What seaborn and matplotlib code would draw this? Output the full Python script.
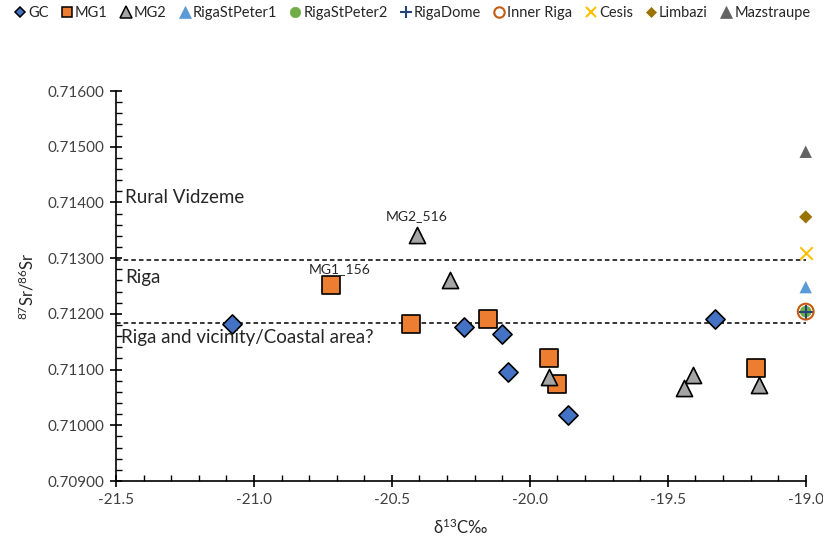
import numpy as np
import pandas as pd
import matplotlib
matplotlib.use('Agg')
import matplotlib.pyplot as plt
import seaborn as sns
from matplotlib.lines import Line2D
from matplotlib.ticker import MultipleLocator, FormatStrFormatter

# study samples (d13C, 87Sr/86Sr)
gc_d13c = [-21.08, -20.24, -20.10, -20.08, -19.86, -19.33]
gc_sr = [0.71181, 0.71176, 0.71163, 0.71095, 0.71019, 0.71191]
mg1_d13c = [-20.72, -20.43, -20.15, -19.93, -19.90, -19.18]
mg1_sr = [0.71252, 0.71181, 0.71190, 0.71120, 0.71075, 0.71102]
mg2_d13c = [-20.41, -20.29, -19.93, -19.41, -19.44, -19.17]
mg2_sr = [0.71342, 0.71261, 0.71087, 0.71090, 0.71067, 0.71072]

# reference baselines, all plotted at the right edge
ref_sites = ['RigaStPeter1', 'RigaStPeter2', 'RigaDome', 'Inner Riga', 'Cesis', 'Limbazi', 'Mazstraupe']
ref_sr = [0.71248, 0.71204, 0.71204, 0.71204, 0.71310, 0.71374, 0.71491]
ref_d13c = -19.0

riga_upper = 0.71296
riga_lower = 0.71184
zones = ['Rural Vidzeme', 'Riga', 'Riga and vicinity/Coastal area?']
zone_y = [0.71408, 0.71266, 0.71157]

labelled = {'MG1_156': (-20.69, 0.71280), 'MG2_516': (-20.41, 0.71376)}

sns.set_style('white')
plt.rcParams['font.family'] = ['Lato', 'DejaVu Sans']
plt.rcParams['axes.unicode_minus'] = False
plt.rcParams['mathtext.default'] = 'regular'

fig = plt.figure(figsize=(8.23, 5.36), dpi=100)
ax = fig.add_axes([0.141, 0.1026, 0.838, 0.7276])

study = pd.concat([
    pd.DataFrame({'d13c': gc_d13c, 'sr': gc_sr, 'group': 'GC'}),
    pd.DataFrame({'d13c': mg1_d13c, 'sr': mg1_sr, 'group': 'MG1'}),
    pd.DataFrame({'d13c': mg2_d13c, 'sr': mg2_sr, 'group': 'MG2'}),
])
styles = {
    'GC': dict(marker='D', color='#4472C4', s=95),
    'MG1': dict(marker='s', color='#ED7D31', s=165),
    'MG2': dict(marker='^', color='#A5A5A5', s=135),
}
for g, st in styles.items():
    sub = study[study.group == g]
    sns.scatterplot(data=sub, x='d13c', y='sr', marker=st['marker'], color=st['color'],
                    s=st['s'], edgecolor='black', linewidth=1.2, ax=ax, zorder=3)

ref = pd.DataFrame({'site': ref_sites, 'sr': ref_sr})
ref['d13c'] = ref_d13c
ref_styles = {
    'RigaStPeter1': dict(marker='^', facecolor='#5B9BD5', edgecolor='none', s=80, lw=0),
    'RigaStPeter2': dict(marker='o', facecolor='#70AD47', edgecolor='none', s=70, lw=0),
    'RigaDome': dict(marker='+', facecolor='#264478', edgecolor='#264478', s=110, lw=1.5),
    'Inner Riga': dict(marker='o', facecolor='none', edgecolor='#C55A11', s=130, lw=1.5),
    'Cesis': dict(marker='x', facecolor='#FFC000', edgecolor='#FFC000', s=80, lw=1.5),
    'Limbazi': dict(marker='D', facecolor='#997300', edgecolor='none', s=45, lw=0),
    'Mazstraupe': dict(marker='^', facecolor='#636363', edgecolor='none', s=80, lw=0),
}
for site, st in ref_styles.items():
    sub = ref[ref.site == site]
    if st['marker'] in ('+', 'x'):
        sns.scatterplot(data=sub, x='d13c', y='sr', marker=st['marker'], color=st['facecolor'],
                        s=st['s'], linewidth=st['lw'], ax=ax, zorder=4, clip_on=False)
    else:
        sns.scatterplot(data=sub, x='d13c', y='sr', marker=st['marker'], facecolor=st['facecolor'],
                        edgecolor=st['edgecolor'], s=st['s'], linewidth=st['lw'],
                        ax=ax, zorder=4, clip_on=False)

for yv in (riga_upper, riga_lower):
    ax.axhline(yv, color='black', linestyle=(0, (3, 2)), linewidth=1.1, zorder=2)

ax.text(-21.467, zone_y[0], zones[0], fontsize=13.5, va='center', ha='left')
ax.text(-21.467, zone_y[1], zones[1], fontsize=13.5, va='center', ha='left')
ax.text(-21.482, zone_y[2], zones[2], fontsize=13.5, va='center', ha='left')
for name, (x, y) in labelled.items():
    ax.text(x, y, name, fontsize=10, ha='center', va='center', color='#262626')

ax.set_xlim(-21.5, -19.0)
ax.set_ylim(0.709, 0.716)
ax.xaxis.set_major_locator(MultipleLocator(0.5))
ax.xaxis.set_minor_locator(MultipleLocator(0.1))
ax.yaxis.set_major_locator(MultipleLocator(0.001))
ax.yaxis.set_minor_locator(MultipleLocator(0.0002))
ax.xaxis.set_major_formatter(FormatStrFormatter('%.1f'))
ax.yaxis.set_major_formatter(FormatStrFormatter('%.5f'))
ax.tick_params(which='major', direction='inout', length=9, width=1.2, color='black',
               labelsize=11, labelcolor='#404040', pad=4,
               bottom=True, left=True)
ax.tick_params(which='minor', direction='in', length=4, width=1, color='black',
               bottom=True, left=True)
for side in ('top', 'right'):
    ax.spines[side].set_visible(False)
for side in ('left', 'bottom'):
    ax.spines[side].set_color('black')
    ax.spines[side].set_linewidth(1.2)

ax.set_xlabel(r'δ$^{13}$C‰', fontsize=12, labelpad=8)
ax.set_ylabel(r'$^{87}$Sr/$^{86}$Sr', fontsize=12, labelpad=8)

# legend symbols all roughly the same size, as in the source figure
def proxy(marker, fc, ec, ms, mew):
    return Line2D([], [], linestyle='none', marker=marker, markerfacecolor=fc,
                  markeredgecolor=ec, markersize=ms, markeredgewidth=mew)

handles = [proxy(styles[g]['marker'], styles[g]['color'], 'black', 8 if g == 'MG2' else (5.5 if g == 'GC' else 7.5), 1.1)
           for g in styles]
for site, st in ref_styles.items():
    ms = {'^': 8, 'o': 7.5, '+': 8, 'x': 7, 'D': 5.5}[st['marker']]
    ec = st['edgecolor'] if st['edgecolor'] != 'none' else st['facecolor']
    handles.append(proxy(st['marker'], st['facecolor'], ec, ms, max(st['lw'], 0.5)))
labels = list(styles) + ref_sites

fig.legend(handles, labels, loc='upper center', bbox_to_anchor=(0.5, 1.005), ncol=10,
           frameon=False, fontsize=10.5, handletextpad=0.05, columnspacing=0.75,
           handlelength=1.0, borderaxespad=0.2)

fig.savefig('out.png', dpi=100)
